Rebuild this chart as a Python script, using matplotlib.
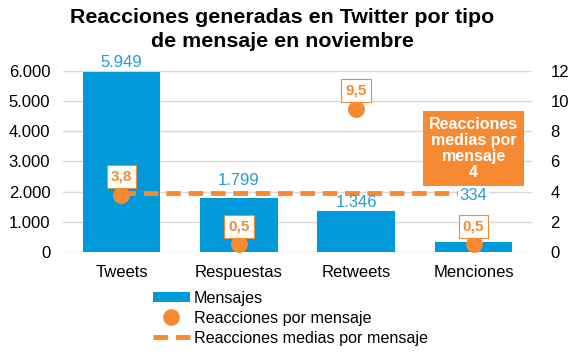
import numpy as np
import matplotlib.pyplot as plt
from matplotlib.lines import Line2D
from matplotlib.patches import Patch

plt.rcParams['font.family'] = ['Liberation Sans', 'DejaVu Sans']

# Datos
categorias = ['Tweets', 'Respuestas', 'Retweets', 'Menciones']
mensajes = [5949, 1799, 1346, 334]
reacciones = [3.8, 0.5, 9.5, 0.5]
media_reacciones = 3.9
etiquetas_izq = ['0', '1.000', '2.000', '3.000', '4.000', '5.000', '6.000']
etiquetas_der = ['0', '2', '4', '6', '8', '10', '12']

azul = '#0099DA'
azul_txt = '#2A9AD6'
naranja = '#F58A32'

fig = plt.figure(figsize=(5.76, 3.56), dpi=100)
ax = fig.add_axes([0.109, 0.292, 0.815, 0.509])
ax2 = ax.twinx()

x = np.arange(len(categorias))
ax.bar(x, mensajes, width=0.66, color=azul, zorder=2)
ax.set_ylim(0, 6000)
ax.set_xlim(-0.5, 3.5)
ax.set_yticks(np.arange(0, 6001, 1000))
ax.set_yticklabels(etiquetas_izq, fontsize=12)
ax.set_xticks(x)
ax.set_xticklabels(categorias, fontsize=12)
ax.grid(axis='y', color='#D9D9D9', linewidth=1, zorder=0)
ax.set_axisbelow(True)
ax.tick_params(axis='y', length=0, pad=9)
ax.tick_params(axis='x', length=0, pad=9)

ax2.set_ylim(0, 12)
ax2.set_yticks(np.arange(0, 13, 2))
ax2.set_yticklabels(etiquetas_der, fontsize=12)
ax2.tick_params(length=0, pad=13)

for a in (ax, ax2):
    for s in a.spines.values():
        s.set_visible(False)

# linea de media
ax2.plot([0, 3], [media_reacciones, media_reacciones], color=naranja,
         linewidth=3.5, dashes=(3, 1.6), zorder=3)

# etiquetas de las barras
desplaz = [2, 7, 1, 28]
for xi, v, d in zip(x, mensajes, desplaz):
    txt = f'{v:,}'.replace(',', '.')
    ax2.annotate(txt, (xi, v / 500), xytext=(0, d), textcoords='offset points',
                 ha='center', va='bottom', color=azul_txt, fontsize=12,
                 bbox=dict(facecolor='white' if d > 10 else 'none',
                           edgecolor='none', pad=1),
                 zorder=5)

# reacciones por mensaje
ax2.scatter(x, reacciones, s=125, color=naranja, zorder=4)
for xi, v in zip(x, reacciones):
    txt = f'{v:.1f}'.replace('.', ',')
    ax2.annotate(txt, (xi, v), xytext=(0, 8), textcoords='offset points',
                 ha='center', va='bottom', color=naranja, fontsize=11,
                 fontweight='bold',
                 bbox=dict(facecolor='white', edgecolor=naranja, pad=3,
                           linewidth=0.8),
                 zorder=6)

# cuadro de reacciones medias
ax2.text(3.0, 6.85, 'Reacciones\nmedias por\nmensaje\n4', ha='center',
         va='center', color='white', fontsize=11.5, fontweight='bold',
         linespacing=1.1,
         bbox=dict(facecolor=naranja, edgecolor='none', pad=4), zorder=6)

fig.suptitle('Reacciones generadas en Twitter por tipo\nde mensaje en noviembre',
             x=0.49, y=0.978, va='top', fontsize=15.4, fontweight='bold',
             linespacing=1.35)

handles = [Patch(facecolor=azul),
           Line2D([], [], marker='o', color=naranja, linestyle='none', markersize=11),
           Line2D([], [], color=naranja, linewidth=3.5, dashes=(3, 1.6))]
labels = ['Mensajes', 'Reacciones por mensaje', 'Reacciones medias por mensaje']
fig.legend(handles, labels, loc='upper left', bbox_to_anchor=(0.265, 0.183),
           frameon=False, fontsize=11.6, handlelength=2.3, handleheight=0.55,
           labelspacing=0.3, borderaxespad=0, handletextpad=0.25, borderpad=0)

plt.savefig('out.png', dpi=100)
